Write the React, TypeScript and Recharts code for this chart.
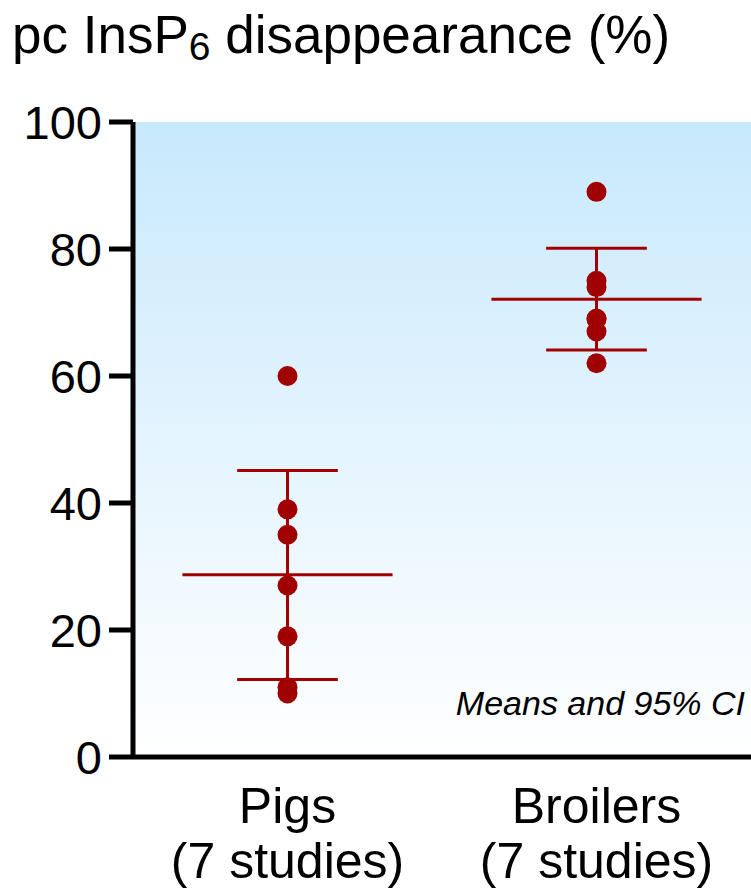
import React from "react"
import {
  ComposedChart,
  Scatter,
  XAxis,
  YAxis,
  CartesianGrid,
  ReferenceLine,
} from "recharts"

// values
const groups = ["Pigs", "Broilers"]
const groupNotes = ["(7 studies)", "(7 studies)"]
const pigsValues = [60, 39, 35, 27, 19, 11, 10]
const broilersValues = [89, 75, 74, 69, 69, 67, 62]
const means = [28.7, 72.1]
const ciLow = [12.2, 64.1]
const ciHigh = [45.1, 80.1]
const yTicks = [0, 20, 40, 60, 80, 100]

const RED = "#a00000"
const FONT = "'Liberation Sans', Arial, Helvetica, sans-serif"
const MEAN_HALF = 0.34
const CAP_HALF = 0.163

const W = 751
const H = 892

const pigsPoints = pigsValues.map((y) => ({ x: 0, y }))
const broilersPoints = broilersValues.map((y) => ({ x: 1, y }))

function Dot(props: any) {
  const { cx, cy } = props
  if (cx == null || cy == null) return null
  return <circle cx={cx} cy={cy} r={10} fill={RED} />
}

function GroupTick(props: any) {
  const { x, y, payload } = props
  const i = payload.value as number
  return (
    <text x={x} y={y} textAnchor="middle" fill="#000" fontSize={50} fontFamily={FONT}>
      <tspan x={x} dy={66}>{groups[i]}</tspan>
      <tspan x={x} dy={55}>{groupNotes[i]}</tspan>
    </text>
  )
}

export default function App() {
  return (
    <div style={{ position: "relative", width: W, height: H, background: "#fff", fontFamily: FONT }}>
      <style>{"body{margin:0}"}</style>
      <ComposedChart width={W} height={H} margin={{ top: 122, right: 0, bottom: 0, left: 0 }}>
        <defs>
          <linearGradient id="bgGrad" x1="0" y1="0" x2="0" y2="1">
            <stop offset="0%" stopColor="#c8e9fc" />
            <stop offset="100%" stopColor="#ffffff" />
          </linearGradient>
        </defs>
        <CartesianGrid fill="url(#bgGrad)" horizontal={false} vertical={false} />
        <XAxis
          type="number"
          dataKey="x"
          domain={[-0.5, 1.5]}
          ticks={[0, 1]}
          allowDataOverflow
          tickLine={false}
          tickSize={0}
          tickMargin={0}
          axisLine={{ stroke: "#000", strokeWidth: 5 }}
          tick={<GroupTick />}
          height={135}
        />
        <YAxis
          type="number"
          dataKey="y"
          domain={[0, 100]}
          ticks={yTicks}
          width={133}
          tickSize={24}
          tickMargin={7}
          axisLine={{ stroke: "#000", strokeWidth: 5 }}
          tickLine={{ stroke: "#000", strokeWidth: 5 }}
          tick={{ fill: "#000", fontSize: 47, fontFamily: FONT }}
        />
        {means.map((m, i) => (
          <ReferenceLine
            key={"mean" + i}
            segment={[{ x: i - MEAN_HALF, y: m }, { x: i + MEAN_HALF, y: m }]}
            stroke={RED}
            strokeWidth={3}
          />
        ))}
        {means.map((_, i) => (
          <ReferenceLine
            key={"ci" + i}
            segment={[{ x: i, y: ciLow[i] }, { x: i, y: ciHigh[i] }]}
            stroke={RED}
            strokeWidth={3}
          />
        ))}
        {ciLow.map((v, i) => (
          <ReferenceLine
            key={"lo" + i}
            segment={[{ x: i - CAP_HALF, y: v }, { x: i + CAP_HALF, y: v }]}
            stroke={RED}
            strokeWidth={3}
          />
        ))}
        {ciHigh.map((v, i) => (
          <ReferenceLine
            key={"hi" + i}
            segment={[{ x: i - CAP_HALF, y: v }, { x: i + CAP_HALF, y: v }]}
            stroke={RED}
            strokeWidth={3}
          />
        ))}
        <Scatter data={pigsPoints} shape={<Dot />} isAnimationActive={false} />
        <Scatter data={broilersPoints} shape={<Dot />} isAnimationActive={false} />
      </ComposedChart>
      <svg
        width={W}
        height={H}
        style={{ position: "absolute", left: 0, top: 0, pointerEvents: "none" }}
      >
        <text x={12} y={53} fontSize={53} fontFamily={FONT} fill="#000">
          pc InsP
          <tspan fontSize={39} dy={7}>6</tspan>
          <tspan dy={-7}> disappearance (%)</tspan>
        </text>
        <text x={745} y={715} fontSize={34} fontStyle="italic" textAnchor="end" fontFamily={FONT} fill="#000">
          Means and 95% CI
        </text>
      </svg>
    </div>
  )
}
